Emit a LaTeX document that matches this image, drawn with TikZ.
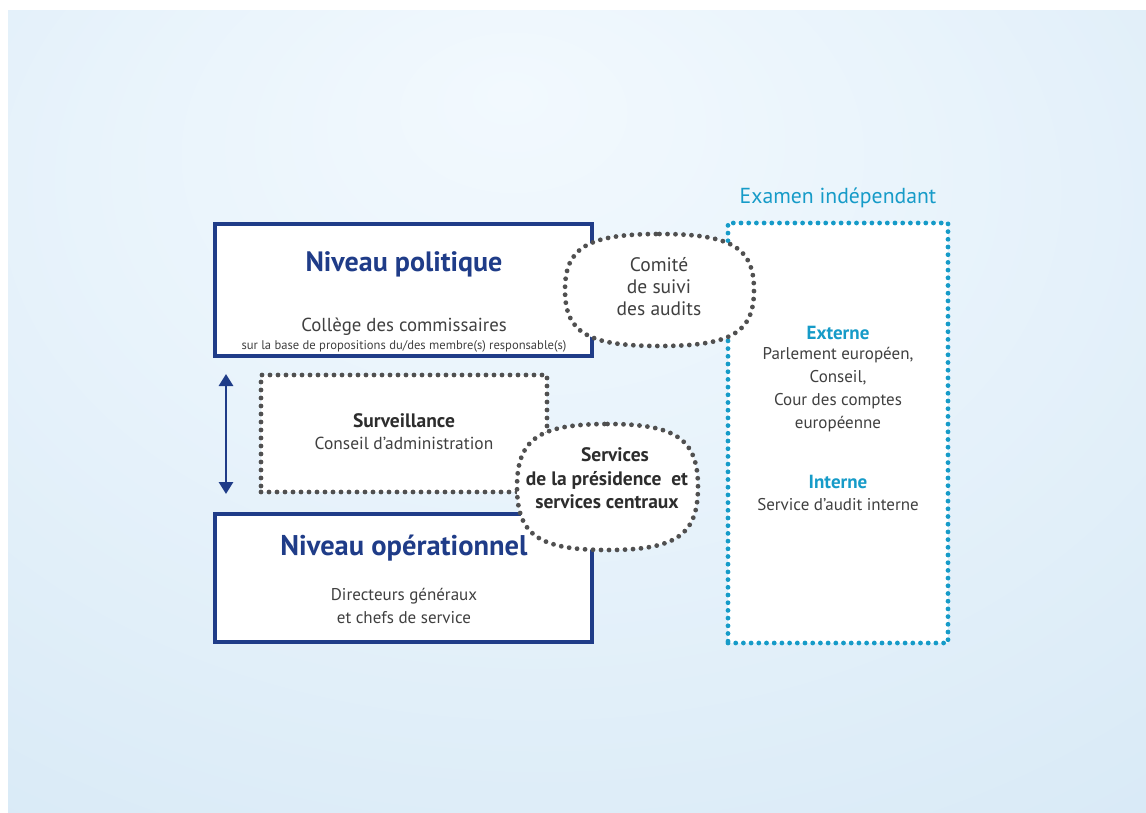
\documentclass[tikz,border=0pt]{standalone}
\usepackage{fontspec}
\setmainfont{PT Sans}
\usetikzlibrary{calc,arrows.meta}
\definecolor{navy}{RGB}{31,60,136}
\definecolor{dotgray}{RGB}{80,80,80}
\definecolor{txtgray}{RGB}{64,64,64}
\definecolor{boldgray}{RGB}{45,45,45}
\definecolor{cyanblue}{RGB}{22,155,200}
\definecolor{bgin}{RGB}{242,249,254}
\definecolor{bgout}{RGB}{212,231,245}
\pgfdeclareradialshading{bgsh}{\pgfpoint{-3bp}{20bp}}{color(0bp)=(bgin); color(18bp)=(bgin!70!bgout); color(50bp)=(bgout); color(75bp)=(bgout)}
\newcommand{\sqk}{0.76}
\newcommand{\sqshape}[2]{%
  \path[#2] (#1.north)
    .. controls ($(#1.north)!\sqk!(#1.north east)$) and ($(#1.east)!\sqk!(#1.north east)$) .. (#1.east)
    .. controls ($(#1.east)!\sqk!(#1.south east)$) and ($(#1.south)!\sqk!(#1.south east)$) .. (#1.south)
    .. controls ($(#1.south)!\sqk!(#1.south west)$) and ($(#1.west)!\sqk!(#1.south west)$) .. (#1.west)
    .. controls ($(#1.west)!\sqk!(#1.north west)$) and ($(#1.north)!\sqk!(#1.north west)$) .. (#1.north) -- cycle;}
\begin{document}
\begin{tikzpicture}[x=1pt,y=-1pt,
  bluebox/.style={draw=navy, line width=4pt, fill=white, inner sep=0pt},
  dotline/.style={line width=4.8pt, line cap=round, dash pattern=on 0pt off 8pt},
  graybox/.style={draw=dotgray, dotline, fill=white, inner sep=0pt},
  cyanbox/.style={draw=cyanblue, dotline, dash pattern=on 0pt off 7.7pt, fill=white, inner sep=0pt},
  frame/.style={inner sep=0pt, outer sep=0pt},
  head/.style={text=navy, font=\bfseries\fontsize{28}{32}\selectfont, inner sep=0pt},
  body/.style={text=txtgray, font=\fontsize{17}{23}\selectfont, align=center, inner sep=0pt},
  bodyb/.style={text=boldgray, font=\bfseries\fontsize{19.5}{23.5}\selectfont, align=center, inner sep=0pt},
  cyt/.style={text=cyanblue, font=\bfseries\fontsize{19}{23}\selectfont, inner sep=0pt},
]
\useasboundingbox (0,0) rectangle (1146,813);
\fill[white] (0,0) rectangle (1146,813);
\shade[shading=bgsh] (8,11) rectangle (1146,813);

% frames
\node[bluebox, minimum width=377pt, minimum height=131pt] (pol) at (403,290) {};
\node[bluebox, minimum width=377pt, minimum height=128pt] (op) at (403,577.5) {};
\node[cyanbox, minimum width=220pt, minimum height=420pt] (exam) at (838,433) {};
\node[graybox, minimum width=286pt, minimum height=117pt] (surv) at (404,433.5) {};

% arrow
\coordinate (atop) at (226,374);
\coordinate (abot) at (226,494);
\draw[navy, line width=2.8pt, {Triangle[width=14pt,length=12pt]}-{Triangle[width=14pt,length=12pt]}] (atop) -- (abot);

% rounded shapes
\node[frame, minimum width=189pt, minimum height=112pt] (comite) at (659.5,290) {};
\node[frame, minimum width=181pt, minimum height=126pt] (serv) at (607.5,487) {};
\sqshape{comite}{fill=white, draw=dotgray, dotline}
\sqshape{serv}{fill=white, draw=dotgray, dotline}

% texts
\node[head] (polt) at (404,264) {Niveau politique};
\node[body, font=\fontsize{18.8}{23}\selectfont] (polc) at (404,327) {Collège des commissaires};
\node[text=txtgray, font=\fontsize{12.6}{14}\selectfont, inner sep=0pt] (pols) at (404,346) {sur la base de propositions du/des membre(s) responsable(s)};
\node[body, font=\fontsize{19.5}{22}\selectfont] (comt) at (659,287) {Comité\\de suivi\\des audits};
\node[text=cyanblue, font=\fontsize{21.7}{26}\selectfont, inner sep=0pt] (examt) at (838,198) {Examen indépendant};
\node[cyt] (ext) at (838,333) {Externe};
\node[body] (extb) at (838,389.5) {Parlement européen,\\Conseil,\\Cour des comptes\\européenne};
\node[cyt] (int) at (838,482) {Interne};
\node[body] (intb) at (838,505) {Service d'audit interne};
\node[bodyb] (survt) at (404,421) {Surveillance};
\node[body, font=\fontsize{17.4}{23}\selectfont] (survb) at (404,443) {Conseil d'administration};
\node[bodyb] (servt) at (607,478.5) {\hspace*{16pt}Services\\de la présidence\ \ et\\services centraux};
\node[head, font=\bfseries\fontsize{28.5}{32}\selectfont] (opt) at (404,548) {Niveau opérationnel};
\node[body] (opb) at (404,605.5) {Directeurs généraux\\et chefs de service};
\end{tikzpicture}
\end{document}
